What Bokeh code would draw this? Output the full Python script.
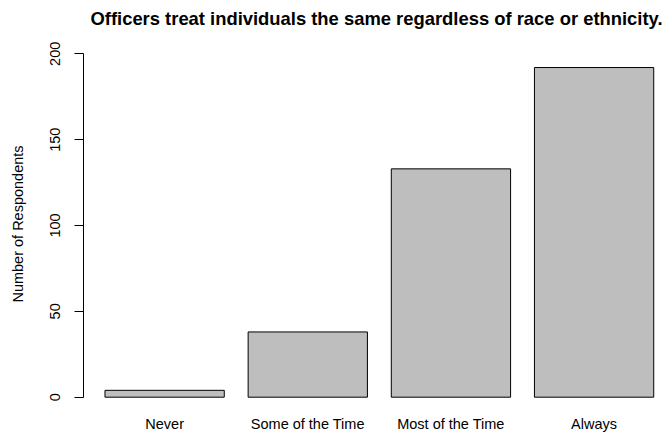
from bokeh.plotting import figure
from bokeh.models import Range1d, FixedTicker, LinearAxis, ColumnDataSource
from bokeh.embed import file_html
from bokeh.resources import INLINE

# ---- data ----
categories = ["Never", "Some of the Time", "Most of the Time", "Always"]
counts = [4, 38, 133, 192]
y_ticks = [0, 50, 100, 150, 200]
title_text = "Officers treat individuals the same regardless of race or ethnicity."
y_label = "Number of Respondents"

# R barplot layout: width 1, space 0.2
bar_width = 1.0
space = 0.2
centers = [space + bar_width / 2 + i * (bar_width + space) for i in range(len(categories))]

src = ColumnDataSource(dict(x=centers, top=counts, cat=categories))

FONT = "Liberation Sans"

p = figure(width=666, height=435, output_backend="svg", toolbar_location=None,
           x_range=Range1d(0.020, 4.907), y_range=Range1d(-7.75, 209.5),
           min_border_left=83, min_border_right=0, min_border_top=37, min_border_bottom=25,
           y_axis_location=None, x_axis_location=None)

p.title.text = title_text
p.title.text_font = FONT
p.title.text_font_size = "18.4px"
p.title.text_font_style = "bold"
p.title.text_color = "black"
p.title.align = "left"
p.title.offset = 7
p.title.vertical_align = "top"
p.title.standoff = 14

p.vbar(x="x", top="top", bottom=0, width=bar_width, source=src,
       fill_color="#BEBEBE", line_color="black", line_width=1)

p.xgrid.visible = False
p.ygrid.visible = False
p.outline_line_color = None
p.background_fill_color = "white"
p.border_fill_color = "white"

# y axis
ya = LinearAxis(ticker=FixedTicker(ticks=y_ticks), bounds=(y_ticks[0], y_ticks[-1]))
ya.axis_label = y_label
ya.axis_label_text_font = FONT
ya.axis_label_text_font_size = "14.5px"
ya.axis_label_text_font_style = "normal"
ya.axis_label_text_color = "black"
ya.axis_label_standoff = 22
ya.major_label_text_font = FONT
ya.major_label_text_font_size = "14.5px"
ya.major_label_text_color = "black"
ya.major_label_orientation = "vertical"
ya.major_label_standoff = 14
ya.major_tick_out = 9
ya.major_tick_in = 0
ya.minor_tick_line_color = None
ya.axis_line_color = "black"
ya.major_tick_line_color = "black"
p.add_layout(ya, "left")

# x axis (labels only)
xa = LinearAxis(ticker=FixedTicker(ticks=centers),
                major_label_overrides={c: lab for c, lab in zip(centers, categories)})
xa.axis_line_color = None
xa.major_tick_line_color = None
xa.minor_tick_line_color = None
xa.major_tick_out = 0
xa.major_tick_in = 0
xa.major_label_standoff = 5
xa.major_label_text_font = FONT
xa.major_label_text_font_size = "14.5px"
xa.major_label_text_color = "black"
p.add_layout(xa, "below")

open("out.html", "w").write(file_html(p, INLINE))
